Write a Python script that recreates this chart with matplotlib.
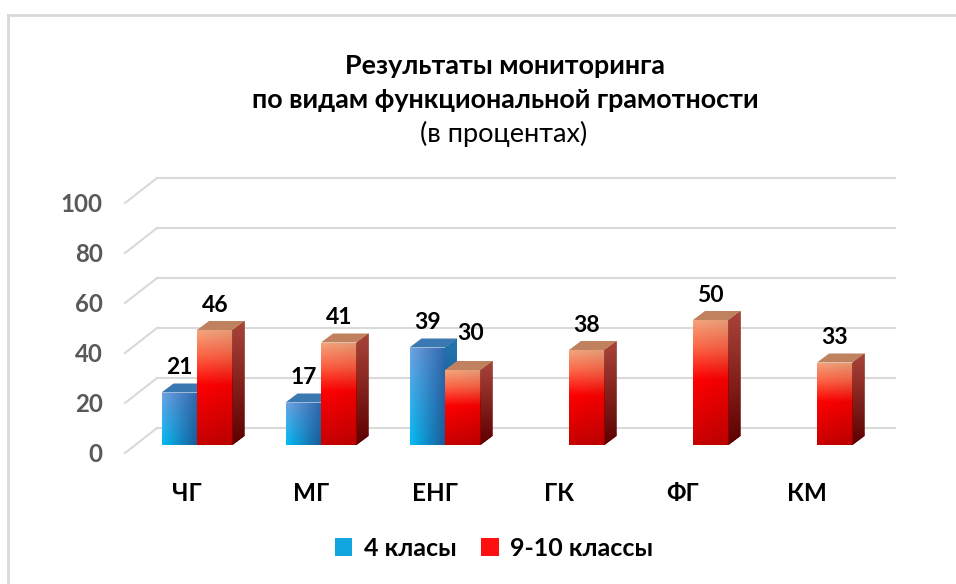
#! /usr/bin/env python3

import numpy as np
import matplotlib
matplotlib.use("Agg")
from matplotlib import pyplot as plt
from matplotlib.patches import Polygon
from matplotlib.lines import Line2D
from matplotlib.colors import to_rgb

categories = ["ЧГ", "МГ", "ЕНГ", "ГК", "ФГ", "КМ"]
grade_4    = [21, 17, 39, None, None, None]
grade_9_10 = [46, 41, 30, 38, 50, 33]
series_names = ["4 класы", "9-10 классы"]
y_ticks = [0, 20, 40, 60, 80, 100]

title_lines = ["Результаты мониторинга", "по видам функциональной грамотности"]
subtitle = "(в процентах)"

plt.rcParams["font.family"] = ["Lato", "DejaVu Sans"]

W, H = 956, 584
fig = plt.figure(figsize = (W / 100, H / 100), dpi = 100)
ax = fig.add_axes([125 / W, (H - 453) / H, 744 / W, 250 / H])
ax.set_xlim(-0.5, len(categories) - 0.5)
ax.set_ylim(0, 100)

px_x = 744 / len(categories)
px_y = 250 / 100

def px2data(dx, dy):
    return dx / px_x, dy / px_y

bar_w = 35.5 / px_x
off_x, off_y = px2data(10, 8)     # front plane -> bar front face
dep_x, dep_y = px2data(12, 9)     # bar depth
wall_x, wall_y = px2data(32, 25)  # front plane -> back wall

# styles: front corners (tl, tr, bl, br), side (top, bottom), top face
styles = [
    dict(front = ["#72a2e2", "#2c68ac", "#00bcf4", "#1c5896"],
         side = ["#2476b0", "#0b4a80"], top = "#3a78b2", mid = "#12a6e0"),
    dict(front = None,
         side = ["#a8443a", "#5e0000"], top = "#c0825e", mid = "#ff1010"),
]

def corner_gradient(tl, tr, bl, br, n = 64):
    tl, tr, bl, br = [np.array(to_rgb(c)) for c in (tl, tr, bl, br)]
    u = np.linspace(0, 1, n)[None, :, None]
    v = np.linspace(0, 1, n)[:, None, None]
    top = tl * (1 - u) + tr * u
    bot = bl * (1 - u) + br * u
    return top * (1 - v) + bot * v

def red_front(n = 64):
    # salmon top, bright red middle, dark red bottom
    stops = [(0.0, "#f5a47c"), (0.22, "#ff6446"), (0.48, "#ff0000"), (1.0, "#c80000")]
    t = np.linspace(0, 1, n)
    cols = np.zeros((n, 3))
    for j in range(3):
        cols[:, j] = np.interp(t, [s[0] for s in stops], [to_rgb(s[1])[j] for s in stops])
    img = np.repeat(cols[:, None, :], n, axis = 1)
    shade = np.linspace(1.0, 0.93, n)[None, :, None]
    return img * shade

def clipped_image(img, patch, extent, z):
    im = ax.imshow(img, extent = extent, origin = "upper", aspect = "auto",
                   interpolation = "bilinear", zorder = z)
    im.set_clip_path(patch)

# back wall grid lines and the short diagonal ones
for v in y_ticks:
    ax.plot([-0.5, -0.5 + wall_x], [v, v + wall_y], color = "#d9d9d9",
            lw = 1.5, clip_on = False, zorder = 1)
    ax.plot([-0.5 + wall_x, len(categories) - 0.5 + wall_x * 0.81],
            [v + wall_y, v + wall_y], color = "#d9d9d9", lw = 1.5,
            clip_on = False, zorder = 1)

z = 3
handles = []
for i in range(len(categories)):
    for k, values in enumerate([grade_4, grade_9_10]):
        val = values[i]
        if val is None:
            continue
        st = styles[k]
        x0 = i - bar_w + k * bar_w + off_x
        x1 = x0 + bar_w
        b = off_y
        t = b + val
        bars = ax.bar(x0, val, width = bar_w, bottom = b, align = "edge",
                      color = st["mid"], zorder = z, label = series_names[k])
        rect = bars.patches[0]
        img = corner_gradient(*st["front"]) if k == 0 else red_front()
        clipped_image(img, rect, (x0, x1, b, t), z + 0.1)

        side = Polygon([(x1, b), (x1, t), (x1 + dep_x, t + dep_y), (x1 + dep_x, b + dep_y)],
                       closed = True, facecolor = st["side"][1], edgecolor = "none",
                       zorder = z + 0.2, clip_on = False)
        ax.add_patch(side)
        clipped_image(corner_gradient(st["side"][0], st["side"][0], st["side"][1], st["side"][1]),
                      side, (x1, x1 + dep_x, b, t + dep_y), z + 0.3)

        top = Polygon([(x0, t), (x1, t), (x1 + dep_x, t + dep_y), (x0 + dep_x, t + dep_y)],
                      closed = True, facecolor = st["top"], edgecolor = "none",
                      zorder = z + 0.4, clip_on = False)
        ax.add_patch(top)

        # label that would collide with a taller neighbour is pushed aside
        nudge = (0, 0)
        if k == 1 and grade_4[i] is not None and grade_4[i] > val:
            nudge = (6, 8)
        ax.annotate(str(val), ((x0 + x1) / 2, t), xytext = (nudge[0], 18 + nudge[1]),
                    textcoords = "offset points", ha = "center", va = "center",
                    fontsize = 16.5, fontweight = "bold", color = "#000000",
                    zorder = 20, annotation_clip = False)
        if i == 0:
            handles.append(bars)
        z += 1

ax.set_xlim(-0.5, len(categories) - 0.5)
ax.set_ylim(0, 100)

ax.set_yticks(y_ticks)
ax.set_yticklabels([str(v) for v in y_ticks], fontsize = 17.3, fontweight = "bold",
                   color = "#595959")
ax.set_xticks(range(len(categories)))
ax.set_xticklabels(categories, fontsize = 17.5, fontweight = "bold", color = "#000000")
ax.tick_params(axis = "y", length = 0, pad = 16)
ax.tick_params(axis = "x", length = 0, pad = 21)
for s in ax.spines.values():
    s.set_visible(False)
ax.patch.set_visible(False)

fig.text(505 / W, 1 - 66 / H, title_lines[0], ha = "center", va = "center",
         fontsize = 19.4, fontweight = "bold")
fig.text(505 / W, 1 - 100 / H, title_lines[1], ha = "center", va = "center",
         fontsize = 19.4, fontweight = "bold")
fig.text(504 / W, 1 - 134 / H, subtitle, ha = "center", va = "center",
         fontsize = 19.5)

fig.legend(handles, series_names, loc = "center", bbox_to_anchor = (494 / W, 1 - 548 / H),
           ncol = 2, frameon = False, handlelength = 0.7, handleheight = 0.7,
           handletextpad = 0.45, columnspacing = 1.0,
           prop = dict(size = 18, weight = "bold"))

# chart frame (only top and left edges visible)
fig.add_artist(Line2D([8 / W, 8 / W], [0, 1 - 15 / H], color = "#d9d9d9", lw = 2))
fig.add_artist(Line2D([8 / W, 1], [1 - 15 / H, 1 - 15 / H], color = "#d9d9d9", lw = 2))

fig.savefig("out.png", dpi = 100)
